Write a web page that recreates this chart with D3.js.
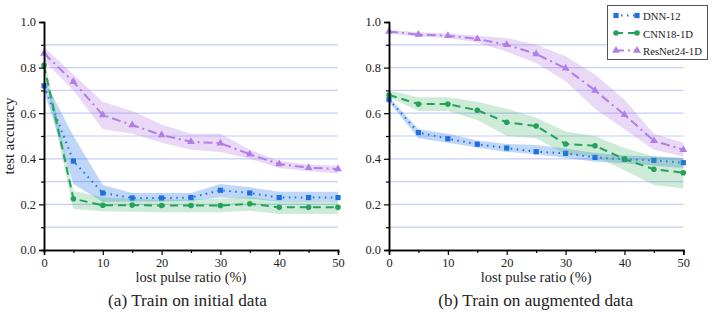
<!DOCTYPE html>
<html><head><meta charset="utf-8">
<script src="https://cdn.jsdelivr.net/npm/d3@7/dist/d3.min.js"></script>
<style>
body{margin:0;background:#fff;}
svg{display:block;}
svg text{font-family:"Liberation Serif","Times New Roman","DejaVu Serif",serif;}
</style></head>
<body><svg id="c" width="714" height="312"></svg>
<script>
const ratios = [0,5,10,15,20,25,30,35,40,45,50];
const seriesNames = ["DNN-12","CNN18-1D","ResNet24-1D"];
const xTicks = [0,10,20,30,40,50];
const yTicks = [0.0,0.2,0.4,0.6,0.8,1.0];
const captions = ["(a) Train on initial data","(b) Train on augmented data"];

// Panel (a): train on initial data
const dnnA     = [0.72,0.39,0.25,0.228,0.228,0.23,0.262,0.25,0.23,0.23,0.23];
const dnnAHi   = [0.75,0.50,0.285,0.25,0.25,0.25,0.29,0.275,0.255,0.255,0.255];
const dnnALo   = [0.70,0.29,0.21,0.213,0.213,0.215,0.23,0.225,0.213,0.213,0.213];
const cnnA     = [0.81,0.225,0.196,0.197,0.195,0.195,0.195,0.203,0.187,0.187,0.187];
const cnnAHi   = [0.84,0.26,0.23,0.225,0.222,0.222,0.225,0.232,0.215,0.215,0.215];
const cnnALo   = [0.78,0.18,0.17,0.168,0.166,0.166,0.166,0.172,0.158,0.158,0.158];
const resA     = [0.862,0.738,0.592,0.548,0.504,0.475,0.468,0.42,0.377,0.361,0.355];
const resAHi   = [0.89,0.77,0.65,0.61,0.55,0.51,0.51,0.44,0.39,0.375,0.37];
const resALo   = [0.83,0.70,0.53,0.51,0.47,0.44,0.43,0.40,0.36,0.345,0.335];

// Panel (b): train on augmented data
const dnnB     = [0.66,0.515,0.488,0.464,0.447,0.431,0.424,0.406,0.398,0.393,0.383];
const dnnBHi   = [0.67,0.53,0.51,0.48,0.465,0.46,0.445,0.425,0.415,0.41,0.405];
const dnnBLo   = [0.65,0.49,0.47,0.45,0.43,0.42,0.405,0.387,0.38,0.37,0.36];
const cnnB     = [0.68,0.64,0.64,0.613,0.56,0.544,0.465,0.457,0.399,0.354,0.339];
const cnnBHi   = [0.70,0.67,0.67,0.65,0.62,0.58,0.52,0.50,0.447,0.41,0.40];
const cnnBLo   = [0.67,0.61,0.61,0.57,0.50,0.49,0.42,0.41,0.35,0.285,0.27];
const resB     = [0.958,0.945,0.94,0.926,0.90,0.86,0.797,0.70,0.593,0.479,0.44];
const resBHi   = [0.965,0.955,0.95,0.94,0.93,0.90,0.85,0.77,0.66,0.51,0.47];
const resBLo   = [0.95,0.935,0.93,0.91,0.87,0.82,0.74,0.62,0.53,0.44,0.41];

const styles = [
  {color:"#1f6fe3", band:"rgba(40,120,230,0.30)", dash:"1.5,4.5", width:2, marker:"square"},
  {color:"#23a35a", band:"rgba(60,175,100,0.25)", dash:"8,5", width:2, marker:"circle"},
  {color:"#b07ee6", band:"rgba(175,120,225,0.28)", dash:"9,4,2,4", width:2, marker:"triangle"}
];

const panels = [
  {x0:44, x1:338, series:[[dnnA,dnnAHi,dnnALo],[cnnA,cnnAHi,cnnALo],[resA,resAHi,resALo]], caption:captions[0], capW:159, capOff:-3.5},
  {x0:389, x1:683.3, series:[[dnnB,dnnBHi,dnnBLo],[cnnB,cnnBHi,cnnBLo],[resB,resBHi,resBLo]], caption:captions[1], capW:195, capOff:-0.5}
];
const yTop = 22, yBot = 250;
const svg = d3.select("#c");
const y = d3.scaleLinear().domain([0,1]).range([yBot,yTop]);
const FONT = '"Liberation Serif","Times New Roman","DejaVu Serif",serif';

// size a text so its rendered width matches the target width
function fit(sel, target){
  const n = sel.node();
  const fs = parseFloat(sel.attr("font-size"));
  const w = n.getComputedTextLength();
  if(w>0) sel.attr("font-size", (fs*target/w).toFixed(2));
  return sel;
}

function drawMarker(g, type, cx, cy, color){
  if(type==="square") g.append("rect").attr("x",cx-2.6).attr("y",cy-2.6).attr("width",5.2).attr("height",5.2).attr("fill",color);
  else if(type==="circle") g.append("circle").attr("cx",cx).attr("cy",cy).attr("r",2.8).attr("fill",color);
  else g.append("path").attr("d",d3.symbol().type(d3.symbolTriangle).size(26)()).attr("transform",`translate(${cx},${cy})`).attr("fill",color);
}

panels.forEach((p,pi)=>{
  const x = d3.scaleLinear().domain([0,50]).range([p.x0,p.x1]);
  const g = svg.append("g");
  g.selectAll("line.grid").data(d3.range(1,10).map(i=>i/10)).join("line")
    .attr("x1",p.x0).attr("x2",p.x1).attr("y1",d=>y(d)).attr("y2",d=>y(d))
    .attr("stroke","#c5cdfa").attr("stroke-width",1.2);
  p.series.forEach((s,si)=>{
    const st = styles[si];
    const area = d3.area().x((d,i)=>x(ratios[i])).y0((d,i)=>y(s[2][i])).y1((d,i)=>y(s[1][i]));
    g.append("path").attr("d",area(ratios)).attr("fill",st.band).attr("stroke","none");
    const line = d3.line().x((d,i)=>x(ratios[i])).y(d=>y(d));
    g.append("path").attr("d",line(s[0])).attr("fill","none").attr("stroke",st.color)
      .attr("stroke-width",st.width).attr("stroke-dasharray",st.dash);
    s[0].forEach((v,i)=>drawMarker(g, st.marker, x(ratios[i]), y(v), st.color));
  });
  const ya = d3.axisLeft(y).tickValues(yTicks).tickFormat(d3.format(".1f")).tickSize(5).tickPadding(3);
  g.append("g").attr("transform",`translate(${p.x0},0)`).call(ya);
  g.append("g").attr("transform",`translate(${p.x0},0)`)
    .call(d3.axisLeft(y).tickValues(d3.range(1,10,2).map(i=>i/10)).tickFormat("").tickSize(3));
  const xa = d3.axisBottom(x).tickValues(xTicks).tickFormat(d3.format("d")).tickSize(5).tickPadding(3);
  g.append("g").attr("transform",`translate(0,${yBot})`).call(xa);
  g.append("g").attr("transform",`translate(0,${yBot})`)
    .call(d3.axisBottom(x).tickValues([5,15,25,35,45]).tickFormat("").tickSize(3));
  g.selectAll("g").attr("font-family",FONT);
  g.selectAll(".domain").attr("stroke","#000").attr("stroke-width",1.5);
  g.selectAll(".tick line").attr("stroke","#000").attr("stroke-width",1.2);
  g.selectAll(".tick text").attr("font-size",13).attr("fill","#222");
  const t = g.append("text").attr("x",(p.x0+p.x1)/2).attr("y",282).attr("text-anchor","middle")
    .attr("font-size",14.5).attr("fill","#222").attr("font-family",FONT).text("lost pulse ratio (%)");
  fit(t,111);
  const c = g.append("text").attr("x",(p.x0+p.x1)/2+p.capOff).attr("y",306).attr("text-anchor","middle")
    .attr("font-size",17).attr("fill","#222").attr("font-family",FONT).text(p.caption);
  fit(c,p.capW);
});
// fit tick labels: "0.0" about 15.5 px wide
svg.selectAll(".tick text").each(function(){
  const s=d3.select(this); if(s.text()==="0.0") fit(s,15.5);
});
const tfs = svg.selectAll(".tick text").filter(function(){return d3.select(this).text()==="0.0";}).attr("font-size");
svg.selectAll(".tick text").attr("font-size",tfs);

const yl = svg.append("text").attr("transform","translate(14,136) rotate(-90)").attr("text-anchor","middle")
  .attr("font-size",14.5).attr("fill","#222").attr("font-family",FONT).text("test accuracy");
fit(yl,77);

const lg = svg.append("g");
lg.append("rect").attr("x",607.5).attr("y",5.5).attr("width",100).attr("height",54)
  .attr("fill","#fff").attr("stroke","#555").attr("stroke-width",1);
const lt = [];
seriesNames.forEach((n,i)=>{
  const st = styles[i];
  const yy = 15.5 + i*17.5;
  lg.append("line").attr("x1",615).attr("x2",638).attr("y1",yy).attr("y2",yy)
    .attr("stroke",st.color).attr("stroke-width",2).attr("stroke-dasharray",st.dash);
  drawMarker(lg, st.marker, 616, yy, st.color);
  drawMarker(lg, st.marker, 637, yy, st.color);
  lt.push(lg.append("text").attr("x",643).attr("y",yy+4.5).attr("font-size",13).attr("fill","#222")
    .attr("font-family",FONT).text(n));
});
fit(lt[2],59);
lt.forEach(t=>t.attr("font-size",lt[2].attr("font-size")));
</script></body></html>
